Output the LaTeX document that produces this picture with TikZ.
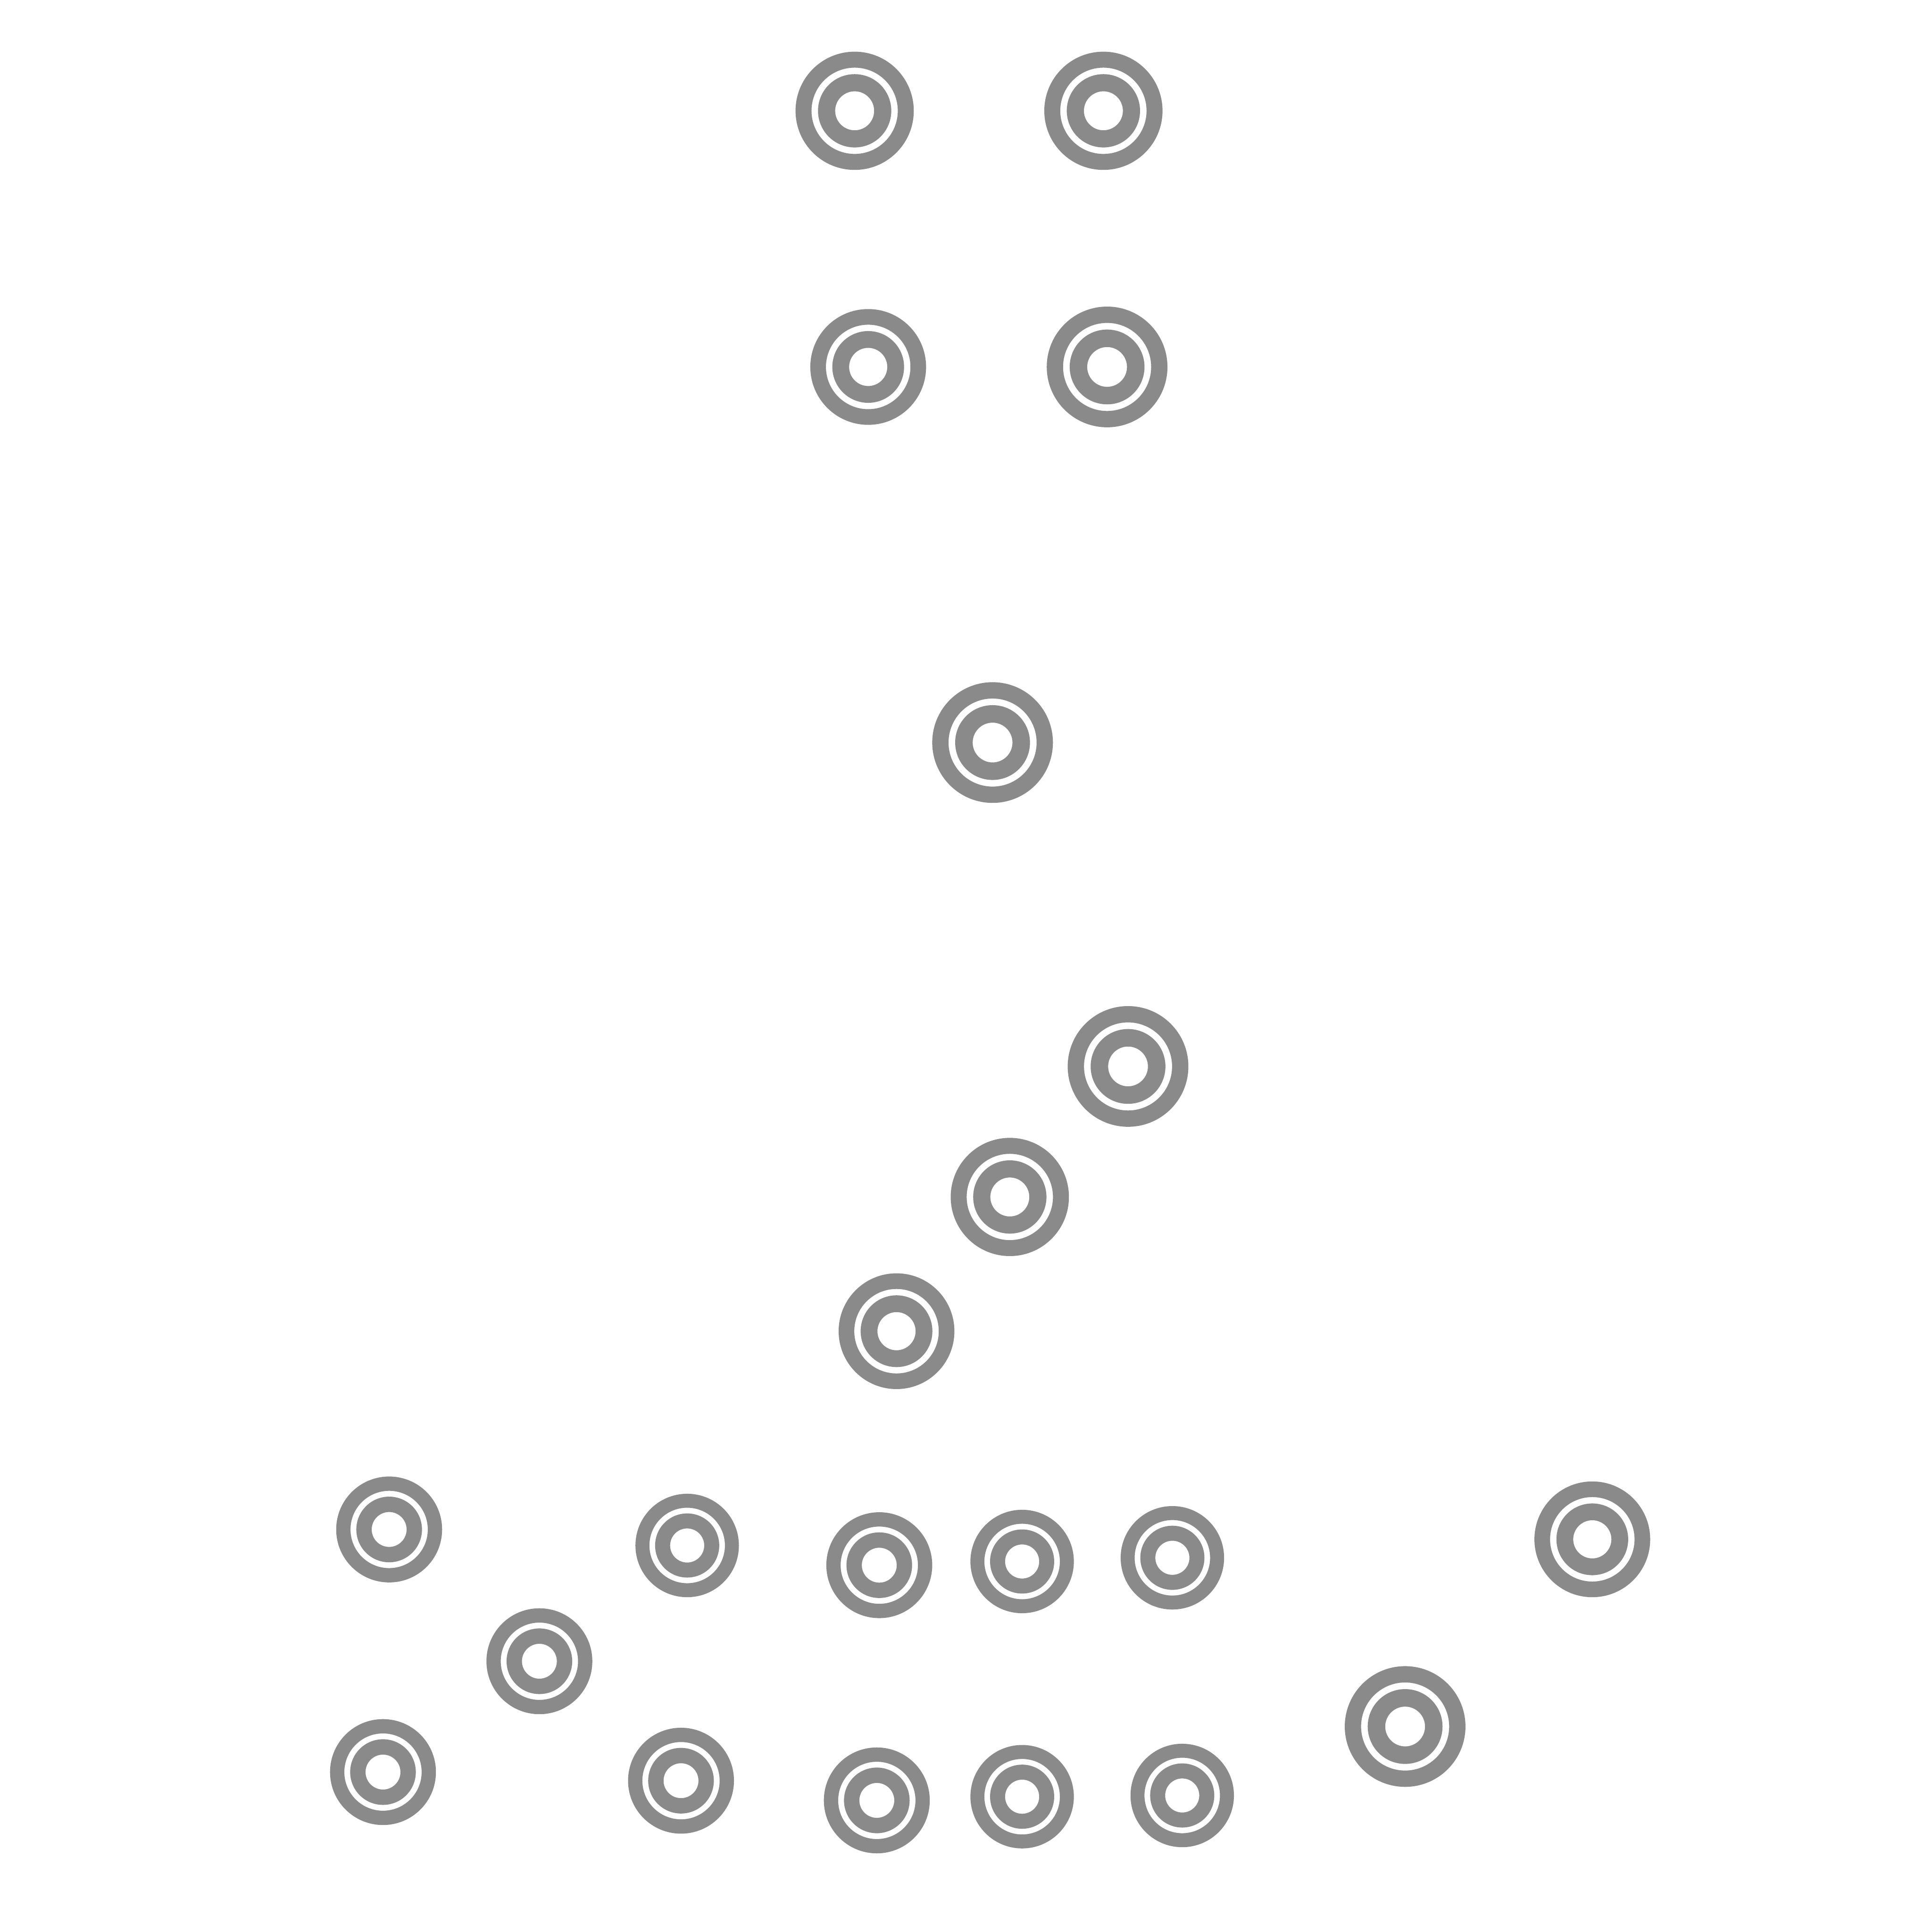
\documentclass[tikz,border=0pt]{standalone}
\definecolor{ringgray}{RGB}{138,138,138}
\tikzset{ringfill/.style={fill=ringgray,even odd rule}}
\newcommand{\myring}[3]{%
  \pgfmathsetmacro\rA{#3*0.01}%
  \pgfmathsetmacro\rB{#3*0.0073}%
  \pgfmathsetmacro\rC{#3*0.0062}%
  \pgfmathsetmacro\rD{#3*0.0033}%
  \pgfmathsetmacro\cx{#1*0.01}%
  \pgfmathsetmacro\cy{15.68-#2*0.01}%
  \fill[ringfill] (\cx cm,\cy cm) circle[radius=\rA cm] (\cx cm,\cy cm) circle[radius=\rB cm];
  \fill[ringfill] (\cx cm,\cy cm) circle[radius=\rC cm] (\cx cm,\cy cm) circle[radius=\rD cm];
}
\begin{document}
\begin{tikzpicture}
\fill[white] (0,0) rectangle (15.68,15.68);
\useasboundingbox (0,0) rectangle (15.68,15.68);
\myring{694}{90}{48}
\myring{896}{90}{48}
\myring{705}{298}{47}
\myring{899}{298}{49}
\myring{806}{603}{49}
\myring{916}{866}{49}
\myring{820}{972}{48}
\myring{728}{1081}{47}
\myring{316}{1242}{43}
\myring{558}{1255}{42}
\myring{714}{1271}{43}
\myring{830}{1268}{42}
\myring{952}{1265}{42}
\myring{1293}{1250}{47}
\myring{438}{1349}{43}
\myring{1141}{1402}{49}
\myring{311}{1439}{43}
\myring{553}{1446}{43}
\myring{712}{1462}{43}
\myring{830}{1459}{42}
\myring{960}{1458}{42}
\end{tikzpicture}
\end{document}
